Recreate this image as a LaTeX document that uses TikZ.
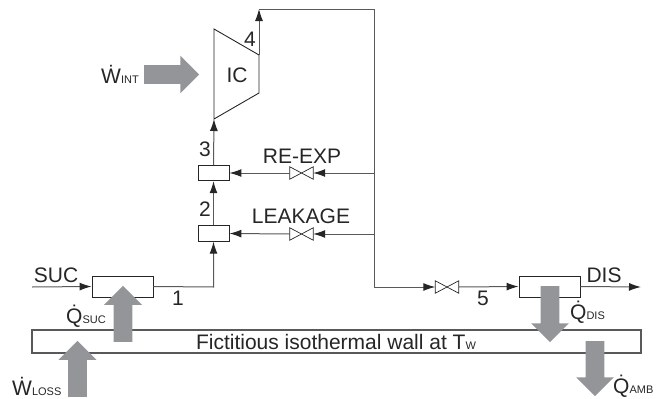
\documentclass[tikz,border=0pt]{standalone}
\usepackage{fontspec}
\setmainfont{Liberation Sans}
\usetikzlibrary{arrows.meta,shapes.arrows}
\definecolor{linegray}{HTML}{58595B}
\definecolor{heatgray}{HTML}{939598}
\newcommand{\flowlab}[2]{\.{#1}{\fontsize{11}{13}\selectfont #2}}

\begin{document}
\begin{tikzpicture}[x=1pt,y=-1pt,
        every node/.style = {font=\fontsize{21}{25}\selectfont, text=black!85},
        flow/.style = {draw=linegray, line width=1pt},
        flowarr/.style = {flow, -{Latex[length=12pt,width=8pt,color=black!85]}},
        hx/.style = {draw=black!85, fill=white, line width=0.9pt, minimum width=61pt, minimum height=21pt, inner sep=0pt},
        mixer/.style = {draw=black!85, fill=white, line width=0.9pt, minimum width=31pt, minimum height=15.5pt, inner sep=0pt},
        valve/.style = {minimum width=23pt, minimum height=12pt, inner sep=0pt},
        heat/.style = {single arrow, fill=heatgray, anchor=tail, inner xsep=0pt, inner ysep=9.25pt, single arrow head extend=9.5pt, single arrow tip angle=90},
        lab/.style = {inner sep=0pt, anchor=center},
        sublab/.style = {inner sep=0pt, anchor=base west},
    ]
        \useasboundingbox (0,0) rectangle (662,399);

        % wall
        \node[draw=linegray, line width=1.1pt, fill=white, minimum width=609pt, minimum height=23pt, inner sep=0pt] (wall) at (336.5,341.5) {};
        \node[lab] (walltext) at (336,342) {Fictitious isothermal wall at T{\fontsize{11}{13}\selectfont W}};

        % components
        \node[hx] (suc) at (122.5,286.5) {};
        \node[hx] (dis) at (549.5,286.5) {};
        \node[mixer] (m2) at (213.5,233.5) {};
        \node[mixer] (m3) at (213.5,173) {};
        \node[valve] (v3) at (301.5,173) {};
        \node[valve] (v2) at (301.5,234) {};
        \node[valve] (v5) at (447,287) {};
        \foreach \v in {v2,v3,v5}
            \draw[draw=black!85, line width=0.7pt] (\v.north west) -- (\v.south east) -- (\v.north east) -- (\v.south west) -- cycle;

        % compressor
        \coordinate (ic1) at (214,29);
        \coordinate (ic2) at (259,55);
        \coordinate (ic3) at (259,93);
        \coordinate (ic4) at (214,119);
        \draw[draw=black!85, line width=0.9pt] (ic1) -- (ic2) -- (ic3) -- (ic4) -- cycle;

        \coordinate (start) at (32,287);
        \coordinate (end) at (641,287);
        \coordinate (bend1) at (213.5,287);
        \coordinate (top1) at (259,9);
        \coordinate (top2) at (374,9);
        \coordinate (j3) at (374,173);
        \coordinate (j2) at (374,234);
        \coordinate (low) at (374,287);

        % flow lines
        \draw[flowarr] (start) -- (suc.west);
        \draw[flowarr] (suc.east) -- (bend1) -- (m2.south);
        \draw[flowarr] (m2.north) -- (m3.south);
        \draw[flowarr] (m3.north) -- (ic4);
        \draw[flowarr] (ic2) -- (top1);
        \draw[flow] (top1) -- (top2) -- (low);
        \draw[flowarr] (low) -- (v5.west);
        \draw[flowarr] (v5.east) -- (dis.west);
        \draw[flowarr] (dis.east) -- (end);
        \draw[flowarr] (j3) -- (v3.east);
        \draw[flowarr] (v3.west) -- (m3.east);
        \draw[flowarr] (j2) -- (v2.east);
        \draw[flowarr] (v2.west) -- (m2.east);

        % heat and work
        \node[heat, minimum height=56pt, rotate=90] (qsuc) at (123,342) {};
        \node[heat, minimum height=56pt, rotate=90] (wloss) at (77.5,397) {};
        \node[heat, minimum height=56pt, rotate=-90] (qdis) at (550,286) {};
        \node[heat, minimum height=55pt, rotate=-90] (qamb) at (595,341) {};
        \node[heat, minimum height=55pt] (wint) at (144,74.5) {};

        % labels
        \node[lab] (ltext) at (56,275) {SUC};
        \node[lab] (rtext) at (604,275) {DIS};
        \node[lab] (n1) at (178,298) {1};
        \node[lab] (n2) at (205,209) {2};
        \node[lab] (n3) at (205,149) {3};
        \node[lab] (n4) at (250,39) {4};
        \node[lab] (n5) at (483,298) {5};
        \node[lab] (ic) at (237,75) {IC};
        \node[lab] (reexp) at (302,156) {RE-EXP};
        \node[lab] (leak) at (301,216) {LEAKAGE};
        \node[sublab] (lqsuc) at (66,323) {\flowlab{Q}{SUC}};
        \node[sublab] (lwloss) at (12,395) {\flowlab{W}{LOSS}};
        \node[sublab] (lwint) at (101,83) {\flowlab{W}{INT}};
        \node[sublab] (lqdis) at (570,319) {\flowlab{Q}{DIS}};
        \node[sublab] (lqamb) at (613,393) {\flowlab{Q}{AMB}};
    \end{tikzpicture}
\end{document}
